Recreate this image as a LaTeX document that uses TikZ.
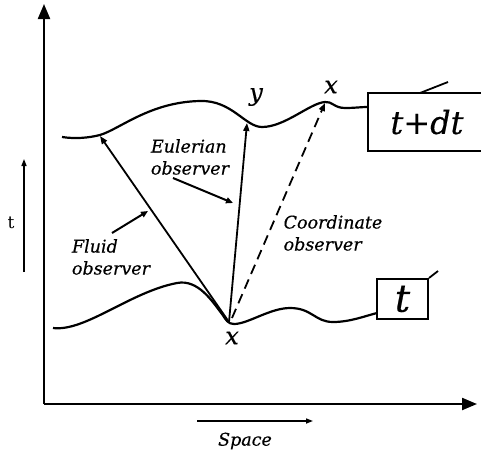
\documentclass[tikz,border=0pt]{standalone}
\usepackage{fontspec}
\setmainfont{DejaVu Serif}[ItalicFeatures={FakeBold=0.4}]
\usetikzlibrary{arrows.meta}
\begin{document}
\begin{tikzpicture}[x=1pt,y=-1pt,
  axis/.style={line width=2.2pt,-{Triangle[length=15pt,width=12pt]}},
  curve/.style={line width=2.2pt},
  obs/.style={line width=1.8pt,-{Triangle[length=8pt,width=6pt]}},
  ptr/.style={line width=2pt,-{Triangle[length=7pt,width=6pt]}},
  lbl/.style={font=\fontsize{17.5}{22}\selectfont\itshape,align=left,inner sep=0pt},
  pt/.style={font=\fontsize{24}{26}\selectfont\itshape,inner sep=0pt},
  tbox/.style={draw,line width=2pt,inner sep=0pt,font=\fontsize{32}{34}\selectfont\itshape}]
\useasboundingbox (0,0) rectangle (481,455);
% axes
\coordinate (O) at (44,404);
\coordinate (Ytop) at (44,4);
\coordinate (Xend) at (477,404);
\draw[axis] (O) -- (Ytop);
\draw[axis] (O) -- (Xend);
% small axis hints
\coordinate (ta) at (24,272);
\coordinate (tb) at (24,159);
\draw[line width=1.5pt,-{Triangle[length=7pt,width=5pt]}] (ta) -- (tb);
\node[font=\fontsize{17}{20}\selectfont] (tl) at (11,223) {t};
\coordinate (sa) at (197,421);
\coordinate (sb) at (313,421);
\draw[line width=1.5pt,-{Triangle[length=7pt,width=5pt]}] (sa) -- (sb);
\node[lbl] (space) at (245,441) {Space};
% boxes
\node[tbox,minimum width=118pt,minimum height=58pt] (B1) at (427,122) {t+dt};
\node[tbox,minimum width=51pt,minimum height=40pt,font=\fontsize{38}{40}\selectfont\itshape] (B0) at (402.5,299) {t};
\coordinate (k1a) at (420,93);
\coordinate (k1b) at (448,82);
\draw[line width=1.8pt] (k1a) -- (k1b);
\coordinate (k0b) at (438,271);
\draw[line width=1.8pt] (B0.north east) -- (k0b);
% curves
\draw[curve] (62,137) .. controls (75,139) and (88,138) .. (100,135)
  .. controls (120,129) and (150,102) .. (200,101)
  .. controls (232,100) and (245,127) .. (262,127)
  .. controls (285,127) and (310,103) .. (325,102)
  .. controls (332,101) and (334,108) .. (345,108)
  .. controls (355,108) and (360,107) .. (368,107);
\draw[curve] (53,328) .. controls (85,332) and (130,292) .. (177,283)
  .. controls (198,279) and (212,301) .. (222,314)
  .. controls (226,320) and (228,324) .. (234,324)
  .. controls (248,324) and (270,308) .. (290,308)
  .. controls (312,308) and (315,322) .. (333,322)
  .. controls (350,322) and (365,316) .. (377,313);
% points
\coordinate (X) at (229,322);
\coordinate (Y) at (247,123);
\coordinate (F) at (100,136);
\coordinate (X2) at (325,103);
\coordinate (Xs) at (232,318);
\draw[obs] (X) -- (Y);
\draw[obs] (X) -- (F);
\draw[obs,dash pattern=on 10pt off 6pt] (Xs) -- (X2);
\node[pt] (xl) at (232,338) {x};
\node[pt] (yl) at (256,97) {y};
\node[pt] (x2l) at (331,87) {x};
% labels
\node[lbl] (eul) at (190,157) {Eulerian\\observer};
\node[lbl] (flu) at (111,257) {Fluid\\observer};
\node[lbl] (coo) at (333,233) {Coordinate\\observer};
\coordinate (es) at (173,178);
\coordinate (ee) at (233,203);
\draw[ptr] (es) -- (ee);
\coordinate (fs) at (112,233);
\coordinate (fe) at (148,211);
\draw[ptr] (fs) -- (fe);
\end{tikzpicture}
\end{document}
